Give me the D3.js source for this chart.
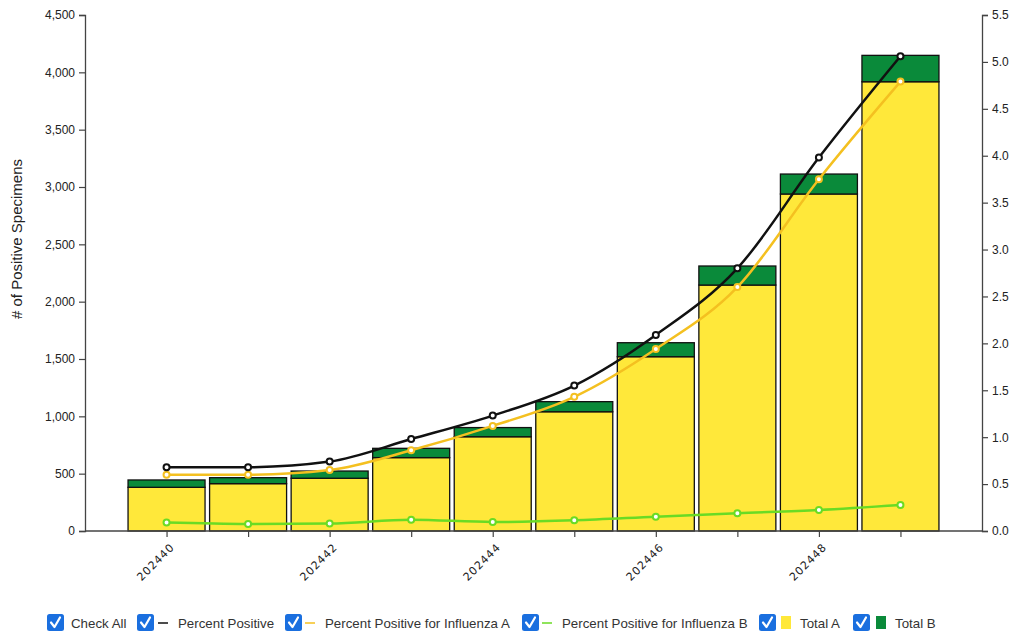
<!DOCTYPE html>
<html><head><meta charset="utf-8">
<script src="https://cdn.jsdelivr.net/npm/d3@7"></script>
<style>body{margin:0;background:#fff;}svg{display:block;}</style>
</head><body>
<svg id="chart" width="1011" height="632"></svg>
<script>
const weeks = ["202440","202441","202442","202443","202444","202445","202446","202447","202448","202449"];
const totalA = [381, 413, 460, 640, 822, 1040, 1520, 2145, 2939, 3918];
const totalB = [64, 52, 63, 81, 80, 88, 122, 166, 174, 230];
const pctPositive = [0.68, 0.68, 0.74, 0.98, 1.23, 1.55, 2.09, 2.80, 3.98, 5.06];
const pctA = [0.60, 0.60, 0.65, 0.86, 1.12, 1.43, 1.94, 2.60, 3.75, 4.79];
const pctB = [0.09, 0.075, 0.08, 0.12, 0.096, 0.114, 0.153, 0.19, 0.224, 0.277];
const leftTicks = [0, 500, 1000, 1500, 2000, 2500, 3000, 3500, 4000, 4500];
const rightTicks = [0, 0.5, 1, 1.5, 2, 2.5, 3, 3.5, 4, 4.5, 5, 5.5];
const xLabels = ["202440","202442","202444","202446","202448"];
const legendItems = ["Check All","Percent Positive","Percent Positive for Influenza A","Percent Positive for Influenza B","Total A","Total B"];

const svg = d3.select("#chart");
const X0 = 85, X1 = 982, Y0 = 531, Y1 = 15;
const x = d3.scalePoint().domain(weeks).range([X0, X1]).padding(1);
const yL = d3.scaleLinear().domain([0, 4500]).range([Y0, Y1]);
const yR = d3.scaleLinear().domain([0, 5.5]).range([Y0, Y1]);
const barW = 77;

const COL = {yellowBar:"#FFE83A", greenBar:"#0A8A3A", black:"#111111", yellowLine:"#F4C020", greenLine:"#6ADB24"};

// bars
const bars = svg.append("g");
weeks.forEach((w,i)=>{
  bars.append("rect").attr("x", x(w)-barW/2).attr("width", barW)
    .attr("y", yL(totalA[i])).attr("height", yL(0)-yL(totalA[i]))
    .attr("fill", COL.yellowBar).attr("stroke","#111").attr("stroke-width",1.3);
  bars.append("rect").attr("x", x(w)-barW/2).attr("width", barW)
    .attr("y", yL(totalA[i]+totalB[i])).attr("height", yL(totalA[i])-yL(totalA[i]+totalB[i]))
    .attr("fill", COL.greenBar).attr("stroke","#111").attr("stroke-width",1.3);
});

// axes
const fmtL = d3.format(",");
const axL = svg.append("g").attr("transform",`translate(${X0},0)`)
  .call(d3.axisLeft(yL).tickValues(leftTicks).tickFormat(fmtL).tickSize(6).tickPadding(4));
const axR = svg.append("g").attr("transform",`translate(${X1},0)`)
  .call(d3.axisRight(yR).tickValues(rightTicks).tickFormat(d3.format(".1f")).tickSize(6).tickPadding(4));
const axX = svg.append("g").attr("transform",`translate(0,${Y0})`)
  .call(d3.axisBottom(x).tickSize(6).tickFormat(d => xLabels.includes(d) ? d : ""));
[axL, axR, axX].forEach(a=>{
  a.select(".domain").attr("stroke","#444").attr("stroke-width",1.3);
  a.selectAll(".tick line").attr("stroke","#444").attr("stroke-width",1.2);
  a.selectAll("text").attr("font-family","Liberation Sans, Arial, sans-serif").attr("font-size",12).attr("fill","#222");
});
axX.select(".domain").attr("d", `M${X0},0H${X1}`);
axX.selectAll(".tick text").attr("font-family","DejaVu Sans, Verdana, sans-serif").attr("font-size",11)
  .attr("letter-spacing","0.9px").attr("fill","#222")
  .attr("text-anchor","end").attr("dy",0).attr("y",0)
  .attr("transform","translate(8,17) rotate(-45)");

// y title
svg.append("text").attr("transform","translate(22,239) rotate(-90)")
  .attr("text-anchor","middle").attr("font-family","Liberation Sans, Arial, sans-serif")
  .attr("font-size",15).attr("fill","#222").text("# of Positive Specimens");

// lines
function drawLine(vals, color, width){
  const pts = weeks.map((w,i)=>[x(w), yR(vals[i])]);
  svg.append("path").attr("d", d3.line().curve(d3.curveMonotoneX)(pts))
    .attr("fill","none").attr("stroke",color).attr("stroke-width",width);
  svg.append("g").selectAll("circle").data(pts).join("circle")
    .attr("cx",d=>d[0]).attr("cy",d=>d[1]).attr("r",3)
    .attr("fill","#fff").attr("stroke",color).attr("stroke-width",2);
}
drawLine(pctB, COL.greenLine, 2.5);
drawLine(pctA, COL.yellowLine, 2.5);
drawLine(pctPositive, COL.black, 2.5);

// legend
const lg = svg.append("g").attr("font-family","Liberation Sans, Arial, sans-serif").attr("font-size",13.3).attr("fill","#333");
const boxX = [47, 137, 285, 522, 759, 853];
const symbols = [null, {t:"line",c:COL.black}, {t:"line",c:COL.yellowLine}, {t:"line",c:COL.greenLine}, {t:"sq",c:COL.yellowBar}, {t:"sq",c:COL.greenBar}];
const textX = [71, 178, 325, 562, 800, 895];
const ly = 623;
legendItems.forEach((name,i)=>{
  const bx = boxX[i];
  lg.append("rect").attr("x",bx).attr("y",ly-9).attr("width",17).attr("height",17).attr("rx",2.5)
    .attr("fill","#1A6FDF");
  lg.append("path").attr("d",`M${bx+4},${ly-0.5} L${bx+7.5},${ly+4} L${bx+13},${ly-5.5}`)
    .attr("fill","none").attr("stroke","#fff").attr("stroke-width",2.2).attr("stroke-linecap","round").attr("stroke-linejoin","round");
  const s = symbols[i];
  if (s && s.t==="line") {
    lg.append("line").attr("x1",textX[i]-20).attr("x2",textX[i]-10).attr("y1",ly).attr("y2",ly)
      .attr("stroke",s.c).attr("stroke-width",1.5);
  } else if (s) {
    lg.append("rect").attr("x",textX[i]-19).attr("y",ly-7).attr("width",10).attr("height",13).attr("fill",s.c);
  }
  lg.append("text").attr("x",textX[i]).attr("y",ly+4.5).text(name);
});
</script>
</body></html>
